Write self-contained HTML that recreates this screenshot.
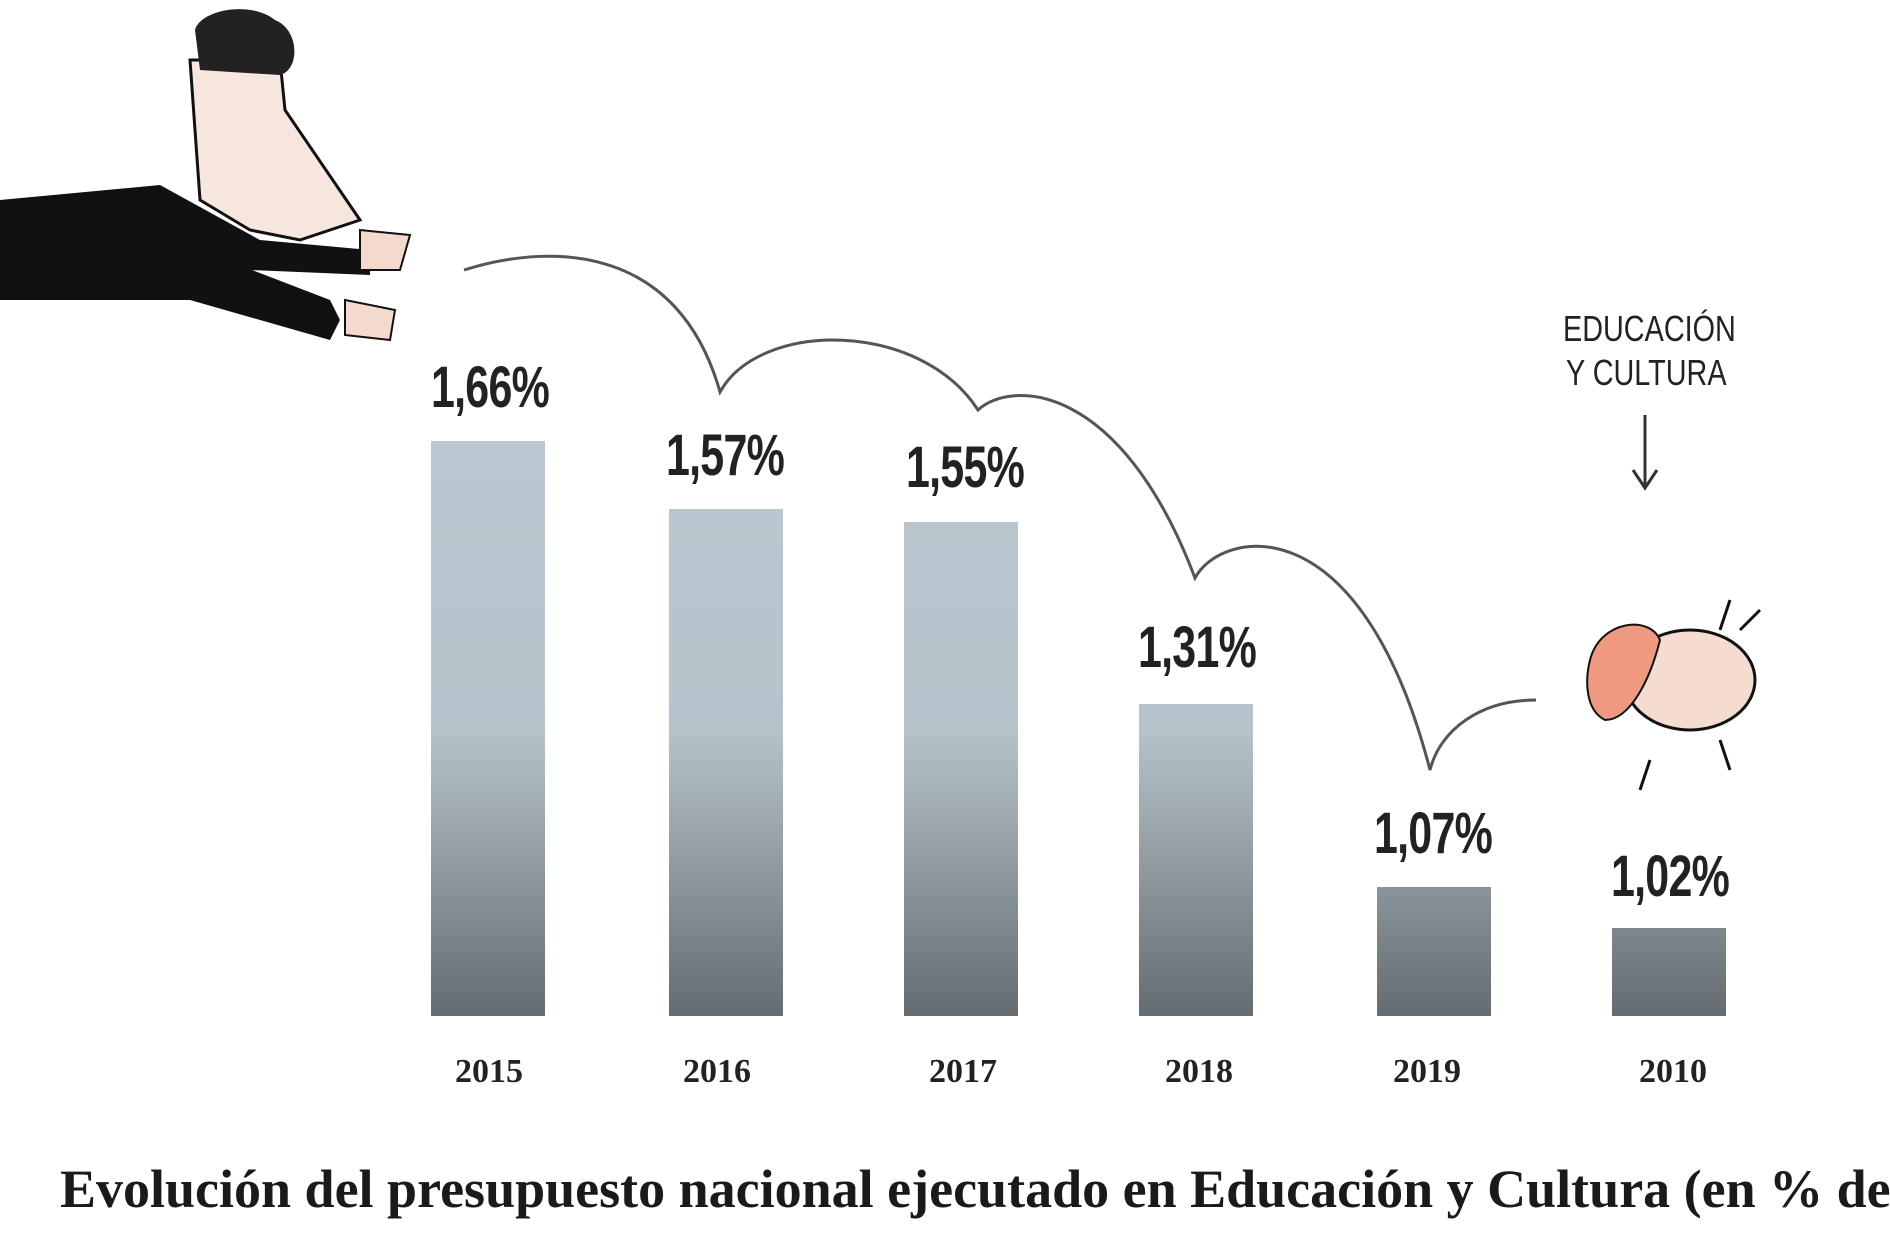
<!DOCTYPE html>
<html><head><meta charset="utf-8"><style>
html,body{margin:0;padding:0;background:#fff;width:1890px;height:1260px;overflow:hidden;position:relative}
.bar{position:absolute;width:114px;background:linear-gradient(to bottom,#bac7d0 0%,#b6c3cb 50%,#8f989e 75%,#646c71 100%);background-size:100% 575px;background-position:bottom;background-repeat:no-repeat;bottom:244px}
.v{position:absolute;font-family:"Liberation Sans",sans-serif;font-weight:bold;font-size:58px;color:#222;transform:translateX(-50%) scaleX(0.74);white-space:nowrap;letter-spacing:-1px}
.y{position:absolute;font-family:"Liberation Serif",serif;font-weight:bold;font-size:34px;color:#222;transform:translateX(-50%)}
.tw{position:absolute;left:0;top:1150px;width:1890px;height:80px;overflow:hidden}
.t{position:absolute;left:60px;top:8px;font-family:"Liberation Serif",serif;font-weight:bold;font-size:54px;color:#1a1a1a;white-space:nowrap}
.h{position:absolute;font-family:"Liberation Sans",sans-serif;font-size:36px;color:#222;transform:scaleX(0.8);transform-origin:left;white-space:nowrap}
</style></head><body>
<div class="bar" style="left:431px;top:441px"></div>
<div class="bar" style="left:669px;top:509px"></div>
<div class="bar" style="left:904px;top:522px"></div>
<div class="bar" style="left:1139px;top:704px"></div>
<div class="bar" style="left:1377px;top:887px"></div>
<div class="bar" style="left:1612px;top:928px"></div>
<div class="v" style="left:490px;top:354px">1,66%</div>
<div class="v" style="left:725px;top:422px">1,57%</div>
<div class="v" style="left:965px;top:434px">1,55%</div>
<div class="v" style="left:1197px;top:614px">1,31%</div>
<div class="v" style="left:1433px;top:800px">1,07%</div>
<div class="v" style="left:1670px;top:843px">1,02%</div>
<div class="y" style="left:489px;top:1053px">2015</div>
<div class="y" style="left:717px;top:1053px">2016</div>
<div class="y" style="left:963px;top:1053px">2017</div>
<div class="y" style="left:1199px;top:1053px">2018</div>
<div class="y" style="left:1427px;top:1053px">2019</div>
<div class="y" style="left:1673px;top:1053px">2010</div>
<div class="tw"><div class="t">Evolución del presupuesto nacional ejecutado en Educación y Cultura (en % del PBI)</div></div>
<div class="h" style="left:1563px;top:308px">EDUCACIÓN</div>
<div class="h" style="left:1566px;top:352px">Y CULTURA</div>
<svg width="1890" height="1260" style="position:absolute;left:0;top:0">
<path d="M464 270 C560 240 680 250 720 392 C760 320 920 320 978 410 C1010 380 1120 380 1195 578 C1220 530 1360 500 1430 770 C1440 730 1480 700 1536 700" fill="none" stroke="#555" stroke-width="3"/>
<path d="M1645 415 L1645 485 M1633 470 L1645 488 L1657 470" fill="none" stroke="#333" stroke-width="3"/>
<path d="M0 200 L160 185 L260 240 L370 250 L370 275 L250 270 L190 280 L0 280 Z" fill="#111"/>
<path d="M0 230 L200 250 L330 300 L340 320 L330 340 L190 300 L0 300 Z" fill="#111"/>
<path d="M190 60 L280 60 L285 110 L360 220 L300 240 L250 230 L200 200 Z" fill="#f7e6de" stroke="#111" stroke-width="3"/>
<path d="M195 30 C200 10 250 0 275 20 C300 30 300 70 280 75 L200 70 Z" fill="#222"/>
<path d="M360 230 L410 235 L400 270 L360 270 Z M345 300 L395 310 L390 340 L345 335 Z" fill="#f4d9cf" stroke="#111" stroke-width="2"/>
<ellipse cx="1690" cy="680" rx="65" ry="50" fill="#f5dcd0" stroke="#111" stroke-width="3"/>
<path d="M1590 660 C1600 620 1650 615 1660 640 C1650 680 1630 720 1605 720 C1585 710 1585 680 1590 660 Z" fill="#ef9a80" stroke="#111" stroke-width="2"/>
<path d="M1650 760 L1640 790 M1720 740 L1730 770 M1720 630 L1730 600 M1740 630 L1760 610" stroke="#111" stroke-width="3"/>
</svg>
</body></html>
